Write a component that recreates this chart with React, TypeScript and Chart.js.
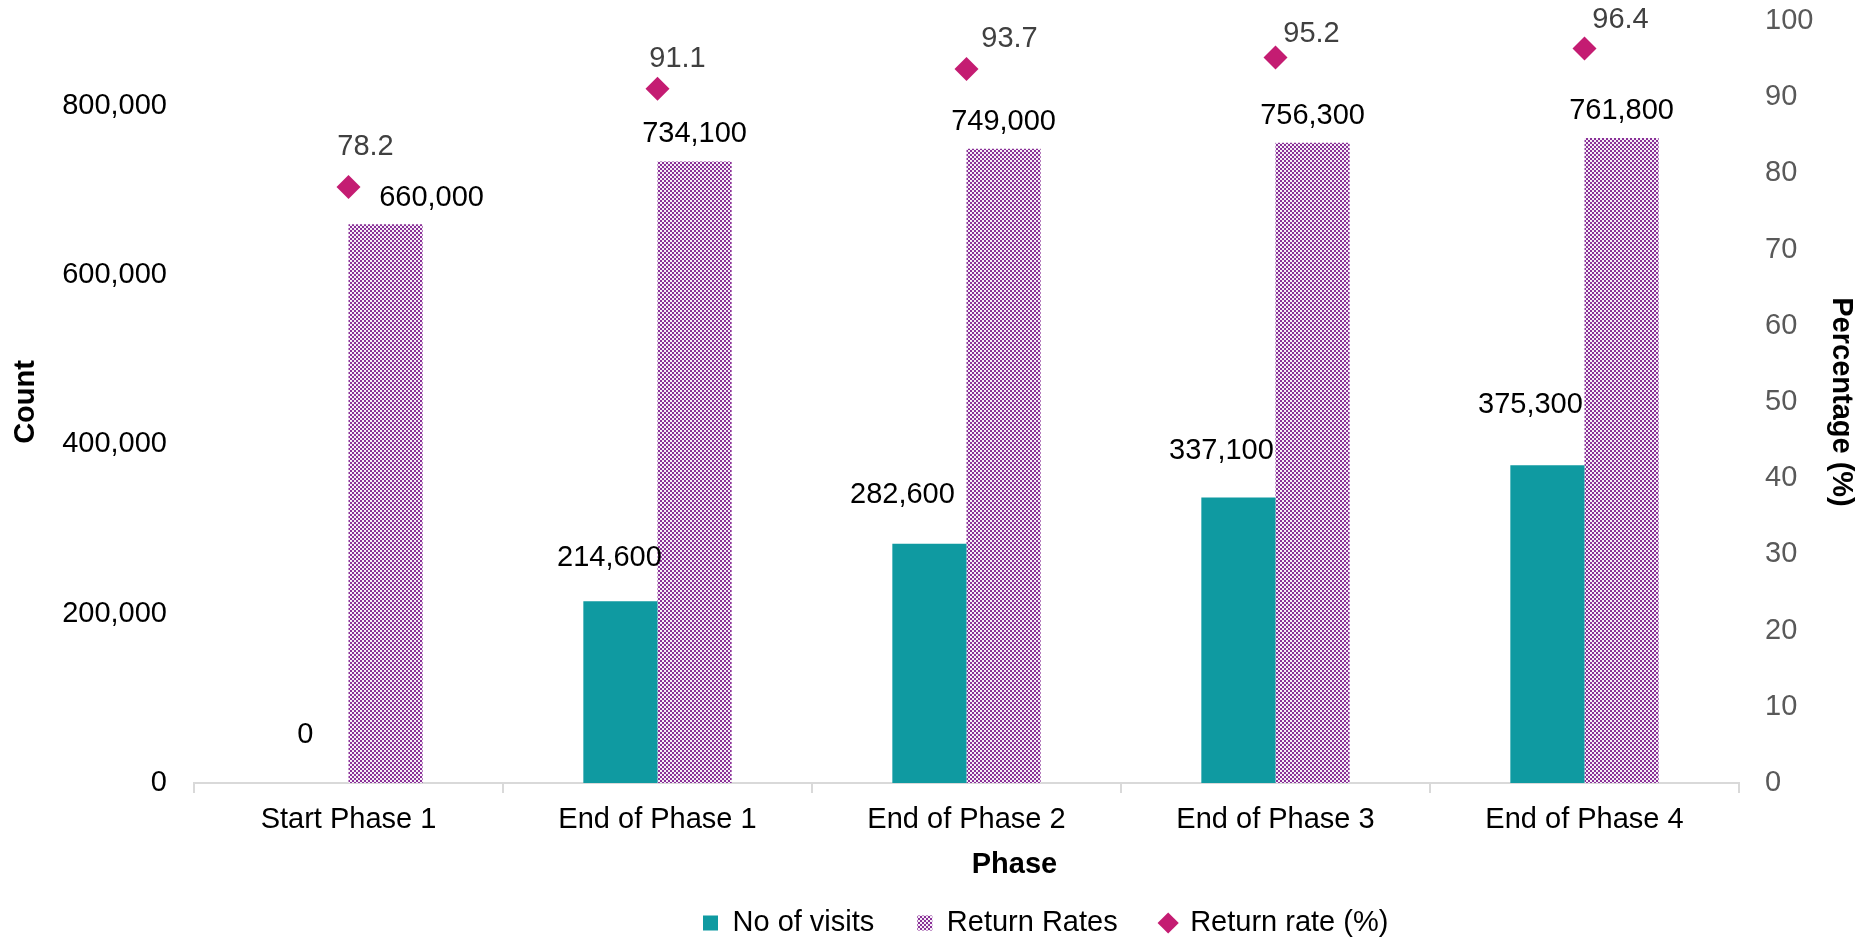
import React, { useEffect, useRef } from 'react';
import { Chart, registerables } from 'chart.js';

Chart.register(...registerables);

// ---------- data ----------
const categories = ['Start Phase 1', 'End of Phase 1', 'End of Phase 2', 'End of Phase 3', 'End of Phase 4'];
const visits = [0, 214600, 282600, 337100, 375300];
const returnRates = [660000, 734100, 749000, 756300, 761800];
const returnRatePct = [78.2, 91.1, 93.7, 95.2, 96.4];
const countTicks = [0, 200000, 400000, 600000, 800000];
const pctTicks = [0, 10, 20, 30, 40, 50, 60, 70, 80, 90, 100];

// ---------- label placement (layout only, px) ----------
const visitsLabelNudge = [[-6, -48], [-11, -43], [-27, -49], [-17, -47], [-17, -60]];
const ratesLabelNudge = [[46, -26], [0, -27], [0, -27], [0, -27], [0, -27]];
const pctLabelNudge = [[17, -40], [20, -30], [43, -30], [36, -24], [36, -28]];

const FONT = '"Liberation Sans", Arial, Helvetica, sans-serif';
const FS = 29;
const TEAL = '#0F9AA1';
const MAGENTA = '#C41C72';
const LEGEND_START_X = 703;
const LEGEND_CENTER_Y = 923;
const X_TITLE_SHIFT = 48;

function makePattern(): CanvasPattern | string {
  const c = document.createElement('canvas');
  c.width = 4;
  c.height = 4;
  const g = c.getContext('2d');
  if (!g) return '#9B4DA8';
  g.fillStyle = '#F6EEF7';
  g.fillRect(0, 0, 4, 4);
  g.fillStyle = '#8A3198';
  g.fillRect(0, 0, 2, 2);
  g.fillRect(2, 2, 2, 2);
  const p = g.createPattern(c, 'repeat');
  return p || '#9B4DA8';
}

const fmtCount = (v: number) => v.toLocaleString('en-US');
const fmtPct = (v: number) => v.toFixed(1);

const valueLabels = {
  id: 'valueLabels',
  afterDatasetsDraw(chart: any) {
    const ctx = chart.ctx;
    ctx.save();
    ctx.font = `${FS}px ${FONT}`;
    ctx.textAlign = 'center';
    ctx.textBaseline = 'middle';
    const specs = [
      { ds: 0, values: visits, nudge: visitsLabelNudge, color: '#000000', fmt: fmtCount },
      { ds: 1, values: returnRates, nudge: ratesLabelNudge, color: '#000000', fmt: fmtCount },
      { ds: 2, values: returnRatePct, nudge: pctLabelNudge, color: '#404040', fmt: fmtPct },
    ];
    specs.forEach((s) => {
      const meta = chart.getDatasetMeta(s.ds);
      meta.data.forEach((el: any, i: number) => {
        const { x, y } = el.getProps(['x', 'y'], true);
        ctx.fillStyle = s.color;
        ctx.fillText(s.fmt(s.values[i]), x + s.nudge[i][0], y + s.nudge[i][1]);
      });
    });
    ctx.restore();
  },
};

const layoutTweaks = {
  id: 'layoutTweaks',
  afterLayout(chart: any) {
    const lg = chart.legend;
    if (lg && lg.lineWidths) {
      const p = lg.options.labels.padding;
      const startX = (lg.left + p + lg.right - lg.lineWidths[0]) / 2;
      const dx = LEGEND_START_X - startX;
      const itemH = lg._itemHeight || FS;
      const textCenter = lg.top + p + itemH / 2;
      const dy = LEGEND_CENTER_Y - textCenter;
      lg.left += dx;
      lg.right += dx;
      lg.top += dy;
      lg.bottom = chart.height;
      lg.height = lg.bottom - lg.top;
    }
    const xs = chart.scales.x;
    if (xs && !xs.__titlePatched) {
      const orig = xs.drawTitle;
      xs.drawTitle = function (this: any, ...args: any[]) {
        this.left += X_TITLE_SHIFT;
        this.right += X_TITLE_SHIFT;
        try {
          orig.apply(this, args);
        } finally {
          this.left -= X_TITLE_SHIFT;
          this.right -= X_TITLE_SHIFT;
        }
      };
      xs.__titlePatched = true;
    }
  },
};

export default function App() {
  const ref = useRef<HTMLCanvasElement>(null);

  useEffect(() => {
    document.body.style.margin = '0';
    const canvas = ref.current;
    if (!canvas) return;
    const pattern = makePattern();
    const legendStyles = ['rect', 'rect', 'rectRot'];

    const chart = new Chart(canvas, {
      type: 'bar',
      data: {
        labels: categories,
        datasets: [
          {
            label: 'No of visits',
            data: visits,
            backgroundColor: TEAL,
            borderWidth: 0,
            yAxisID: 'y',
            categoryPercentage: 0.48,
            barPercentage: 1.0,
            order: 2,
          } as any,
          {
            label: 'Return Rates',
            data: returnRates,
            backgroundColor: pattern as any,
            borderWidth: 0,
            yAxisID: 'y',
            categoryPercentage: 0.48,
            barPercentage: 1.0,
            order: 2,
          } as any,
          {
            type: 'line',
            label: 'Return rate (%)',
            data: returnRatePct,
            yAxisID: 'y1',
            showLine: false,
            pointStyle: 'rectRot',
            pointRadius: 12,
            pointHoverRadius: 12,
            pointBorderWidth: 0,
            backgroundColor: MAGENTA,
            borderColor: MAGENTA,
            order: 1,
          } as any,
        ],
      },
      options: {
        animation: false,
        responsive: false,
        maintainAspectRatio: false,
        layout: { padding: { top: 21, left: 0, right: 0, bottom: 0 } },
        font: { family: FONT, size: FS } as any,
        plugins: {
          title: { display: false },
          tooltip: { enabled: false },
          legend: {
            display: true,
            position: 'bottom',
            maxHeight: 40,
            labels: {
              usePointStyle: true,
              boxWidth: 15,
              boxHeight: 15,
              padding: 43,
              color: '#000000',
              font: { family: FONT, size: FS },
              sort: (a: any, b: any) => a.datasetIndex - b.datasetIndex,
              generateLabels: (ch: any) => {
                const items = Chart.defaults.plugins.legend.labels.generateLabels(ch);
                return items.map((it: any) => ({
                  ...it,
                  pointStyle: legendStyles[it.datasetIndex],
                  lineWidth: 0,
                  strokeStyle: 'rgba(0,0,0,0)',
                }));
              },
            },
          },
        },
        scales: {
          x: {
            type: 'category',
            offset: true,
            grid: {
              display: true,
              offset: true,
              drawOnChartArea: false,
              drawTicks: true,
              tickLength: 10,
              color: '#D9D9D9',
              lineWidth: 2,
            },
            border: { display: true, color: '#D9D9D9', width: 2 },
            ticks: {
              color: '#000000',
              font: { family: FONT, size: FS },
              padding: 10,
              maxRotation: 0,
              autoSkip: false,
            },
            title: {
              display: true,
              text: 'Phase',
              color: '#000000',
              font: { family: FONT, size: FS, weight: 'bold' },
              padding: { top: 0, bottom: 19 },
            },
            afterFit: (scale: any) => {
              scale.height = 118;
            },
          },
          y: {
            type: 'linear',
            position: 'left',
            min: 0,
            max: 900000,
            grid: { display: false, drawTicks: false },
            border: { display: false },
            ticks: {
              color: '#000000',
              font: { family: FONT, size: FS },
              padding: 27,
              callback: (v: any) => Number(v).toLocaleString('en-US'),
            },
            afterBuildTicks: (scale: any) => {
              scale.ticks = countTicks.map((v) => ({ value: v }));
            },
            title: {
              display: true,
              text: 'Count',
              color: '#000000',
              font: { family: FONT, size: FS, weight: 'bold' },
              padding: { top: 9, bottom: 0 },
            },
            afterFit: (scale: any) => {
              scale.width = 194;
              scale.paddingTop = 0;
              scale.paddingBottom = 0;
            },
          },
          y1: {
            type: 'linear',
            position: 'right',
            min: 0,
            max: 100,
            grid: { display: false, drawTicks: false },
            border: { display: false },
            ticks: {
              color: '#595959',
              font: { family: FONT, size: FS },
              padding: 26,
            },
            afterBuildTicks: (scale: any) => {
              scale.ticks = pctTicks.map((v) => ({ value: v }));
            },
            title: {
              display: true,
              text: 'Percentage (%)',
              color: '#000000',
              font: { family: FONT, size: FS, weight: 'bold' },
              padding: { top: 16, bottom: 0 },
            },
            afterFit: (scale: any) => {
              scale.width = 135;
              scale.paddingTop = 0;
              scale.paddingBottom = 0;
            },
          },
        },
      } as any,
      plugins: [valueLabels, layoutTweaks],
    });

    return () => {
      chart.destroy();
    };
  }, []);

  return (
    <div style={{ width: 1874, height: 941, background: '#ffffff' }}>
      <canvas ref={ref} width={1874} height={941} style={{ display: 'block', width: 1874, height: 941 }} />
    </div>
  );
}
